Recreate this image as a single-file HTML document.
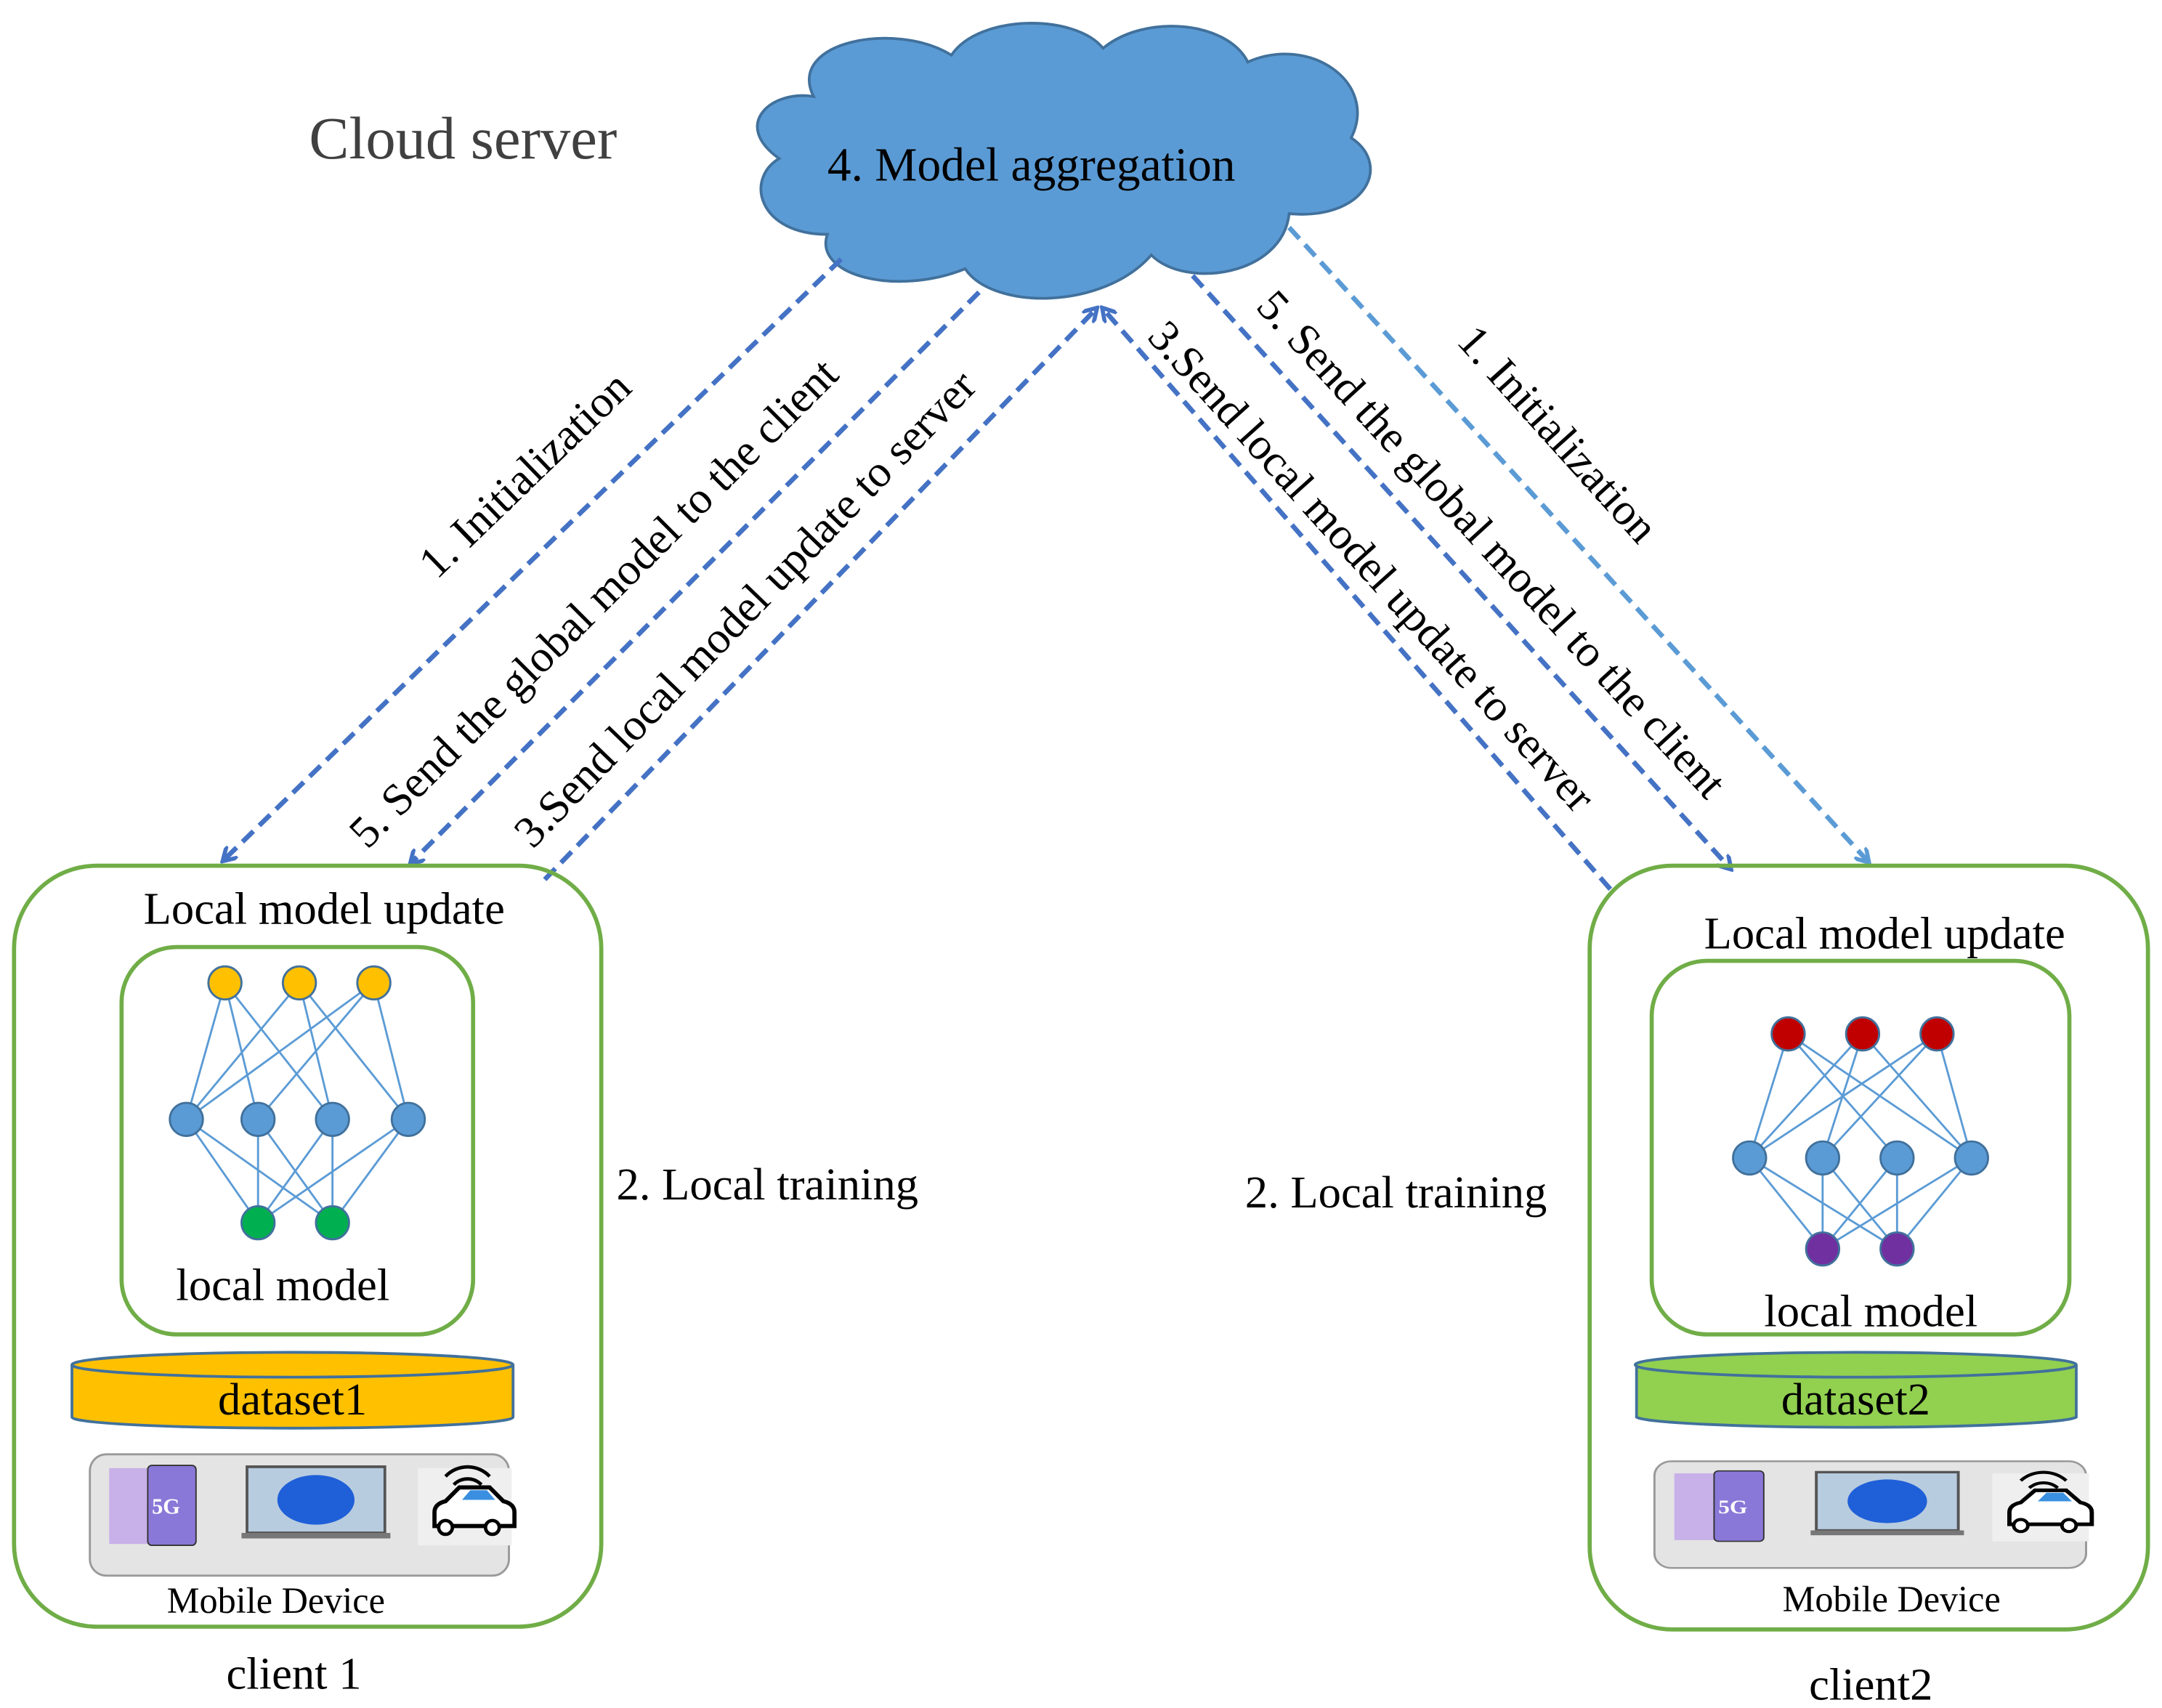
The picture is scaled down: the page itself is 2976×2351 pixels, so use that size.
<!DOCTYPE html>
<html><head><meta charset="utf-8"><style>
html,body{margin:0;padding:0;background:#fff;}
svg{display:block;}
text{font-family:"Liberation Serif",serif;fill:#000;}
</style></head><body>
<svg width="2976" height="2351" viewBox="0 0 1568 1239" xmlns="http://www.w3.org/2000/svg">
<defs>
<marker id="ah" markerWidth="12" markerHeight="12" refX="9" refY="6" orient="auto" markerUnits="userSpaceOnUse">
<path d="M0,0 L10,6 L0,12" fill="none" stroke="#4472c4" stroke-width="3"/></marker>
<marker id="ah2" markerWidth="12" markerHeight="12" refX="9" refY="6" orient="auto" markerUnits="userSpaceOnUse">
<path d="M0,0 L10,6 L0,12" fill="none" stroke="#5b9bd5" stroke-width="3"/></marker>
<g id="dev">
<rect x="0" y="0" width="304" height="88" rx="12" fill="#e4e4e4" stroke="#999" stroke-width="1.5"/>
<rect x="14" y="10" width="28" height="55" fill="#c8b0e8"/>
<rect x="42" y="8" width="35" height="58" rx="3" fill="#8a78d8" stroke="#333" stroke-width="1"/>
<text x="45" y="43" font-family="Liberation Sans,sans-serif" font-size="16" font-weight="bold" style="fill:#fff">5G</text>
<rect x="114" y="9" width="100" height="48" fill="#b8cce0" stroke="#555" stroke-width="2"/>
<ellipse cx="164" cy="33" rx="28" ry="18" fill="#1f5fd8"/>
<rect x="110" y="57" width="108" height="4" fill="#777"/>
<rect x="238" y="10" width="68" height="56" fill="#efefef"/>
<path d="M250,52 v-10 q0,-6 8,-8 l10,-10 h22 l10,10 q8,2 8,8 v10 z" fill="#fff" stroke="#000" stroke-width="3"/>
<path d="M270,33 l6,-7 h12 l6,7 z" fill="#3a8fe0"/>
<circle cx="258" cy="53" r="5" fill="#fff" stroke="#000" stroke-width="2.5"/>
<circle cx="292" cy="53" r="5" fill="#fff" stroke="#000" stroke-width="2.5"/>
<path d="M264,22 a14,14 0 0 1 20,0 M258,16 a22,22 0 0 1 32,0" fill="none" stroke="#000" stroke-width="2.5"/>
</g>
</defs>

<g fill="#5b9bd5" stroke="#41719c" stroke-width="2">
<path d="M590,70 C570,30 650,15 690,40 C710,10 780,10 800,35 C830,10 890,15 905,45 C950,25 1000,60 980,100 C1010,120 990,160 935,155 C930,200 860,210 835,185 C800,225 720,225 700,195 C650,215 590,200 600,170 C550,170 540,130 565,115 C530,90 560,65 590,70 Z"/>
</g>
<text x="224" y="115" font-size="43.5" style="fill:#404040">Cloud server</text>
<text x="600" y="131" font-size="34.5">4. Model aggregation</text>

<g fill="none" stroke="#4472c4" stroke-width="3.5" stroke-dasharray="11,6">
<line x1="610" y1="188" x2="162" y2="624" marker-end="url(#ah)"/>
<line x1="710" y1="212" x2="298" y2="626" marker-end="url(#ah)"/>
<line x1="395" y1="638" x2="795" y2="224" marker-end="url(#ah)"/>
<line x1="1168" y1="645" x2="800" y2="224" marker-end="url(#ah)"/>
<line x1="865" y1="200" x2="1255" y2="630" marker-end="url(#ah)"/>
<line x1="935" y1="165" x2="1355" y2="625" stroke="#5b9bd5" marker-end="url(#ah2)"/>
</g>
<g font-size="32.5">
<text transform="translate(388,352) rotate(-44)" text-anchor="middle">1. Initialization</text>
<text transform="translate(438,445) rotate(-45)" text-anchor="middle">5. Send the global model to the client</text>
<text transform="translate(548,449) rotate(-46)" text-anchor="middle">3.Send local model update to server</text>
<text transform="translate(1074,402) rotate(47.5)" text-anchor="middle">5. Send the global model to the client</text>
<text transform="translate(987,418) rotate(48)" text-anchor="middle">3.Send local model update to server</text>
<text transform="translate(1122,322) rotate(48)" text-anchor="middle">1. Initialization</text>
</g>

<g fill="none" stroke="#70ad47" stroke-width="3">
<rect x="10" y="628" width="426" height="552" rx="60"/>
<rect x="88" y="687" width="255" height="281" rx="40"/>
<rect x="1153" y="628" width="405" height="554" rx="60"/>
<rect x="1198" y="697" width="303" height="271" rx="40"/>
</g>

<g stroke="#5b9bd5" stroke-width="1.5">
<path d="M163,713 L135,812 M163,713 L187,812 M163,713 L241,812 M217,713 L135,812 M217,713 L241,812 M217,713 L296,812 M271,713 L135,812 M271,713 L187,812 M271,713 L296,812
M135,812 L187,887 M135,812 L241,887 M187,812 L187,887 M187,812 L241,887 M241,812 L187,887 M241,812 L241,887 M296,812 L187,887 M296,812 L241,887"/>
<path d="M1297,750 L1269,840 M1297,750 L1376,840 M1297,750 L1430,840 M1351,750 L1269,840 M1351,750 L1322,840 M1351,750 L1430,840 M1405,750 L1269,840 M1405,750 L1322,840 M1405,750 L1430,840
M1269,840 L1322,906 M1269,840 L1376,906 M1322,840 L1322,906 M1322,840 L1376,906 M1376,840 L1322,906 M1376,840 L1376,906 M1430,840 L1322,906 M1430,840 L1376,906"/>
</g>
<g stroke="#41719c" stroke-width="1.5">
<circle cx="163" cy="713" r="12" fill="#ffc000"/><circle cx="217" cy="713" r="12" fill="#ffc000"/><circle cx="271" cy="713" r="12" fill="#ffc000"/>
<circle cx="135" cy="812" r="12" fill="#5b9bd5"/><circle cx="187" cy="812" r="12" fill="#5b9bd5"/><circle cx="241" cy="812" r="12" fill="#5b9bd5"/><circle cx="296" cy="812" r="12" fill="#5b9bd5"/>
<circle cx="187" cy="887" r="12" fill="#00b050"/><circle cx="241" cy="887" r="12" fill="#00b050"/>
<circle cx="1297" cy="750" r="12" fill="#c00000"/><circle cx="1351" cy="750" r="12" fill="#c00000"/><circle cx="1405" cy="750" r="12" fill="#c00000"/>
<circle cx="1269" cy="840" r="12" fill="#5b9bd5"/><circle cx="1322" cy="840" r="12" fill="#5b9bd5"/><circle cx="1376" cy="840" r="12" fill="#5b9bd5"/><circle cx="1430" cy="840" r="12" fill="#5b9bd5"/>
<circle cx="1322" cy="906" r="12" fill="#7030a0"/><circle cx="1376" cy="906" r="12" fill="#7030a0"/>
</g>

<g stroke="#41719c" stroke-width="2">
<path d="M52,990 V1028 A160,8 0 0 0 372,1028 V990" fill="#ffc000"/>
<ellipse cx="212" cy="990" rx="160" ry="9" fill="#ffc000"/>
<path d="M1187,990 V1028 A160,8 0 0 0 1506,1028 V990" fill="#92d050"/>
<ellipse cx="1346" cy="990" rx="160" ry="9" fill="#92d050"/>
</g>
<g font-size="33">
<text x="212" y="1026" text-anchor="middle">dataset1</text>
<text x="1346" y="1026" text-anchor="middle">dataset2</text>
<text x="235" y="670" text-anchor="middle">Local model update</text>
<text x="1367" y="688" text-anchor="middle">Local model update</text>
<text x="205" y="943" text-anchor="middle">local model</text>
<text x="1357" y="962" text-anchor="middle">local model</text>
<text x="447" y="870">2. Local training</text>
<text x="903" y="876">2. Local training</text>
<text x="213" y="1225" text-anchor="middle">client 1</text>
<text x="1357" y="1233" text-anchor="middle">client2</text>
</g>

<use href="#dev" transform="translate(65,1055)"/>
<use href="#dev" transform="translate(1200,1060) scale(1.03,0.88)"/>
<g font-size="26.5">
<text x="200" y="1170" text-anchor="middle">Mobile Device</text>
<text x="1372" y="1169" text-anchor="middle">Mobile Device</text>
</g>
</svg>
</body></html>
